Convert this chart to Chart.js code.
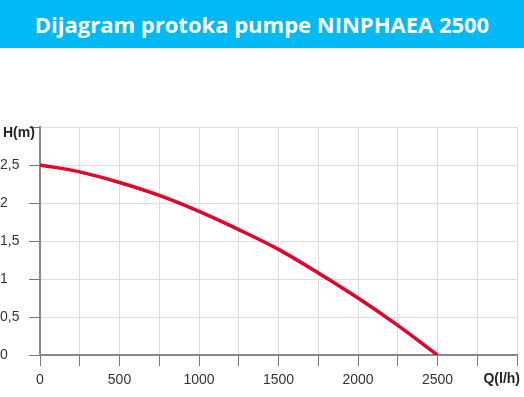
<!DOCTYPE html>
<html>
<head>
<meta charset="utf-8">
<script src="https://cdn.jsdelivr.net/npm/chart.js@4"></script>
<style>
  html, body { margin: 0; padding: 0; background: #fff; }
  #wrap { position: relative; width: 524px; height: 397px; overflow: hidden; }
  #title {
    position: absolute; left: 0; top: 0; width: 524px; height: 48px;
    background: #00b9f5; color: #fff;
    font-family: "Open Sans", sans-serif; font-weight: bold; font-size: 22px;
    line-height: 48px; text-align: center; z-index: 2;
  }
  canvas { position: absolute; left: 0; top: 0; }
</style>
</head>
<body>
<div id="wrap">
  <div id="title">Dijagram protoka pumpe NINPHAEA 2500</div>
  <canvas id="chart" width="524" height="397"></canvas>
</div>
<script>
// flow Q (l/h) and head H (m)
const flow = [0, 250, 500, 750, 1000, 1250, 1500, 1750, 2000, 2250, 2500];
const head = [2.5, 2.41, 2.27, 2.1, 1.89, 1.65, 1.39, 1.08, 0.75, 0.39, 0];
const xLabels = [0, 500, 1000, 1500, 2000, 2500];
const yLabels = [0, 0.5, 1, 1.5, 2, 2.5];

const axisLabels = {
  id: "axisLabels",
  afterDraw(chart) {
    const ctx = chart.ctx;
    ctx.save();
    ctx.fillStyle = "#222";
    ctx.font = "bold 14px 'Liberation Sans', Arial, sans-serif";
    ctx.textBaseline = "middle";
    ctx.textAlign = "left";
    ctx.fillText("H(m)", 3, 133);
    ctx.textAlign = "right";
    ctx.fillText("Q(l/h)", 520, 379);
    ctx.restore();
  }
};

const ctx = document.getElementById("chart").getContext("2d");
new Chart(ctx, {
  type: "line",
  data: {
    datasets: [
      {
        data: flow.map((q, i) => ({ x: q, y: head[i] })),
        borderColor: "#e4002b",
        borderWidth: 3.5,
        pointRadius: 0,
        cubicInterpolationMode: "monotone",
        fill: false,
      },
    ],
  },
  options: {
    responsive: false,
    animation: false,
    layout: { padding: { top: 127, right: 7, left: 0, bottom: 0 } },
    plugins: { legend: { display: false }, tooltip: { enabled: false } },
    scales: {
      x: {
        type: "linear",
        min: 0,
        max: 3000,
        afterFit: (s) => { s.height = 42; },
        ticks: {
          stepSize: 250,
          autoSkip: false,
          maxRotation: 0,
          padding: 6,
          color: "#333",
          font: { family: "'Liberation Sans', Arial, sans-serif", size: 14 },
          callback: (v) => (xLabels.includes(v) ? String(v) : ""),
        },
        grid: { color: "#dcdcdc", tickColor: "#777", tickLength: 11, lineWidth: 1 },
        border: { color: "#888", width: 2 },
      },
      y: {
        min: 0,
        max: 3,
        afterFit: (s) => { s.width = 40; },
        ticks: {
          stepSize: 0.5,
          crossAlign: "far",
          padding: 4,
          color: "#333",
          font: { family: "'Liberation Sans', Arial, sans-serif", size: 14 },
          callback: (v) => (yLabels.includes(v) ? String(v).replace(".", ",") : ""),
        },
        grid: { color: "#dcdcdc", tickColor: "#777", tickLength: 11, lineWidth: 1 },
        border: { color: "#888", width: 2 },
      },
    },
  },
  plugins: [axisLabels],
});
</script>
</body>
</html>
